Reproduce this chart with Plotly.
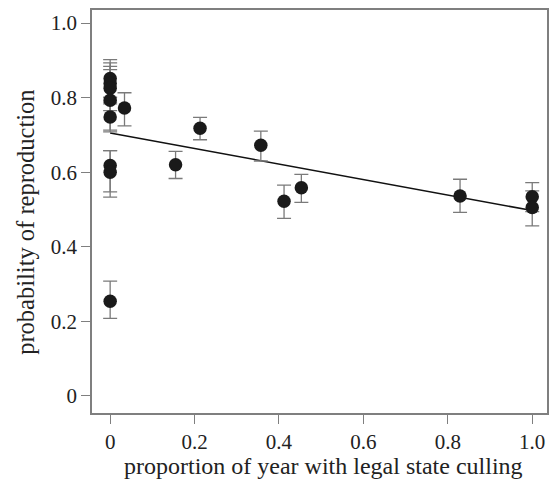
import plotly.graph_objects as go

# Data
cull_prop = [0.0, 0.0, 0.0, 0.0, 0.0, 0.0, 0.0, 0.0,
             0.034, 0.155, 0.213, 0.357, 0.412, 0.453, 0.829, 1.0, 1.0]
repro_prob = [0.851, 0.838, 0.825, 0.793, 0.748, 0.618, 0.600, 0.254,
              0.772, 0.620, 0.718, 0.672, 0.522, 0.558, 0.536, 0.534, 0.505]
err_plus = [0.051, 0.055, 0.059, 0.082, 0.040, 0.040, 0.058, 0.054,
            0.041, 0.036, 0.029, 0.038, 0.043, 0.036, 0.045, 0.038, 0.045]
err_minus = [0.050, 0.055, 0.060, 0.080, 0.040, 0.071, 0.067, 0.046,
             0.048, 0.037, 0.031, 0.042, 0.046, 0.039, 0.044, 0.040, 0.049]

fit_x = [0.0, 1.0]
fit_y = [0.705, 0.497]

x_ticks = [0, 0.2, 0.4, 0.6, 0.8, 1.0]
x_tick_text = ["0", "0.2", "0.4", "0.6", "0.8", "1.0"]
y_ticks = [0, 0.2, 0.4, 0.6, 0.8, 1.0]
y_tick_text = ["0", "0.2", "0.4", "0.6", "0.8", "1.0"]

x_title = "proportion of year with legal state culling"
y_title = "probability of reproduction"

font_family = "'Liberation Serif', 'Times New Roman', Tinos, serif"
axis_grey = "#7f7f7f"
text_col = "#222222"

fig = go.Figure()

fig.add_trace(go.Scatter(
    x=fit_x, y=fit_y, mode="lines",
    line=dict(color="#111111", width=1.5),
    showlegend=False, hoverinfo="skip",
))

fig.add_trace(go.Scatter(
    x=cull_prop, y=repro_prob, mode="markers",
    marker=dict(color="#1a1a1a", size=13.5, line=dict(width=0)),
    error_y=dict(type="data", symmetric=False, array=err_plus, arrayminus=err_minus,
                 color="#7a7a7a", thickness=1.3, width=7),
    showlegend=False,
))

fig.update_layout(
    width=555, height=479,
    margin=dict(l=92, r=8, t=10, b=66, autoexpand=False),
    paper_bgcolor="white", plot_bgcolor="white",
    font=dict(family=font_family, size=21, color=text_col),
    annotations=[
        dict(text=x_title, xref="paper", yref="paper", x=0.508, y=0,
             xanchor="center", yanchor="middle", yshift=-53, showarrow=False,
             font=dict(family=font_family, size=24, color=text_col)),
        dict(text=y_title, xref="paper", yref="paper", x=0, y=0.472,
             xanchor="center", yanchor="middle", xshift=-66, textangle=-90,
             showarrow=False,
             font=dict(family=font_family, size=24.5, color=text_col)),
    ],
)

fig.update_xaxes(
    range=[-0.043, 1.035],
    tickvals=x_ticks, ticktext=x_tick_text,
    ticks="outside", ticklen=9, tickwidth=1.3, tickcolor=axis_grey,
    showline=True, linecolor=axis_grey, linewidth=1.5, mirror=True,
    showgrid=False, zeroline=False, automargin=False,
    tickfont=dict(family=font_family, size=21, color=text_col),
)

fig.update_yaxes(
    range=[-0.046, 1.035],
    tickvals=y_ticks, ticktext=y_tick_text,
    ticks="outside", ticklen=9, tickwidth=1.3, tickcolor=axis_grey,
    showline=True, linecolor=axis_grey, linewidth=1.5, mirror=True,
    showgrid=False, zeroline=False, automargin=False,
    tickfont=dict(family=font_family, size=21, color=text_col),
)

fig.write_html("out.html", config={"displayModeBar": False},
               post_script="document.body.style.margin='0px';")
